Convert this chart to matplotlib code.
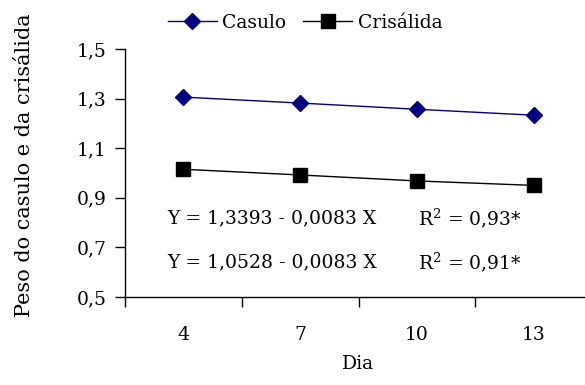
import matplotlib
matplotlib.use("Agg")
import matplotlib.pyplot as plt
import numpy as np

plt.rcParams['font.family'] = ['DejaVu Serif']
plt.rcParams['mathtext.fontset'] = 'dejavuserif'

dias = ["4", "7", "10", "13"]
casulo = [1.306, 1.282, 1.257, 1.233]
crisalida = [1.015, 0.992, 0.968, 0.950]
yticks = [0.5, 0.7, 0.9, 1.1, 1.3, 1.5]
ytick_labels = ["0,5", "0,7", "0,9", "1,1", "1,3", "1,5"]

fig = plt.figure(figsize=(5.85, 3.85), dpi=100)
W, H = 585, 385
left, right, top, bottom = 125, 592, 49, 297
ax = fig.add_axes([left / W, 1 - bottom / H, (right - left) / W, (bottom - top) / H])

x = np.arange(len(dias))
ax.plot(x, casulo, color='#000080', lw=1, marker='D', ms=8, mfc='#000080', mec='#000080', label='Casulo')
ax.plot(x, crisalida, color='black', lw=1, marker='s', ms=9.5, mfc='black', mec='black', label='Crisálida')

fs = 13.5
ax.set_xlim(-0.5, len(dias) - 0.5)
ax.set_ylim(0.5, 1.5)
ax.set_yticks(yticks)
ax.set_yticklabels(ytick_labels, fontsize=fs)
ax.set_xticks(x)
ax.set_xticklabels(dias, fontsize=fs)
ax.set_xticks(np.arange(-0.5, len(dias) + 0.5, 1), minor=True)
ax.tick_params(axis='x', which='major', length=0, pad=21)
ax.tick_params(axis='x', which='minor', length=7, direction='out', width=1)
ax.tick_params(axis='y', length=7, direction='out', width=1, pad=6)
for s in ['top', 'right']:
    ax.spines[s].set_visible(False)
for s in ['left', 'bottom']:
    ax.spines[s].set_linewidth(1)

fig.text(358 / W, 1 - 364 / H, "Dia", fontsize=fs, ha='center', va='center')
fig.text(25 / W, 1 - 165 / H, "Peso do casulo e da crisálida", rotation=90,
         fontsize=15, ha='center', va='center')

fig.text(167 / W, 1 - 218 / H, "Y = 1,3393 - 0,0083 X", fontsize=fs, va='center', ha='left')
fig.text(418 / W, 1 - 218 / H, "R$^2$ = 0,93*", fontsize=fs, va='center', ha='left')
fig.text(167 / W, 1 - 262 / H, "Y = 1,0528 - 0,0083 X", fontsize=fs, va='center', ha='left')
fig.text(418 / W, 1 - 262 / H, "R$^2$ = 0,91*", fontsize=fs, va='center', ha='left')

leg = fig.legend(loc='center', bbox_to_anchor=(305 / W, 1 - 23 / H), ncol=2, frameon=False,
                 fontsize=fs, handlelength=2.6, columnspacing=0.9, handletextpad=0.3)

fig.savefig("out.png", dpi=100)
